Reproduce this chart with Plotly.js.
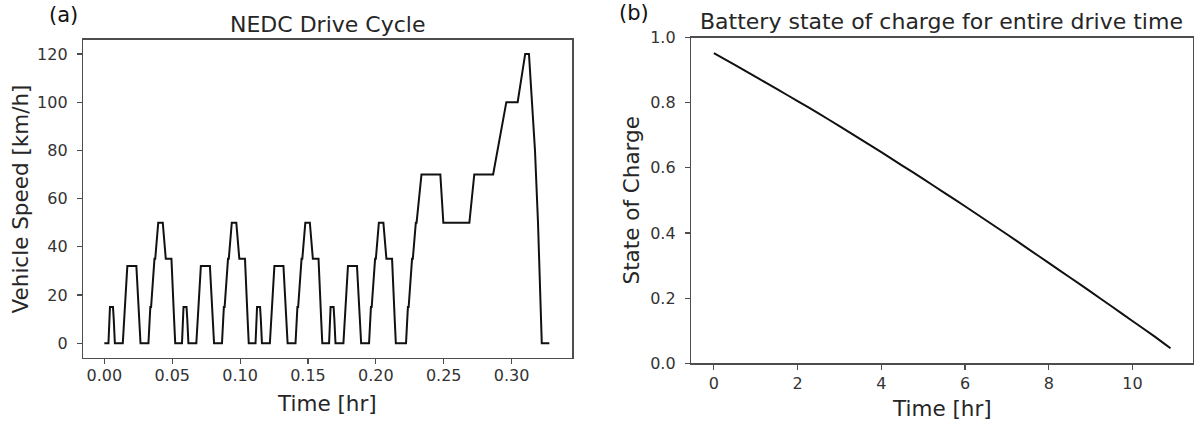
<!DOCTYPE html>
<html>
<head>
<meta charset="utf-8">
<script src="https://cdn.plot.ly/plotly-3.0.1.min.js"></script>
<style>html,body{margin:0;padding:0;background:#fff;}#chart{width:1194px;height:425px;}</style>
</head>
<body>
<div id="chart"></div>
<script>
// NEDC drive cycle breakpoints: time in seconds, speed in km/h
const nedcTimeSec = [
  0, 11, 15, 23, 25, 28, 49, 54, 56, 61, 85, 93, 96, 117, 122, 124, 133, 135, 143, 155, 163, 176, 178, 185, 188, 195,
  206, 210, 218, 220, 223, 244, 249, 251, 256, 280, 288, 291, 312, 317, 319, 328, 330, 338, 350, 358, 371, 373, 380, 383, 390,
  401, 405, 413, 415, 418, 439, 444, 446, 451, 475, 483, 486, 507, 512, 514, 523, 525, 533, 545, 553, 566, 568, 575, 578, 585,
  596, 600, 608, 610, 613, 634, 639, 641, 646, 670, 678, 681, 702, 707, 709, 718, 720, 728, 740, 748, 761, 763, 770, 773, 780,
  800, 805, 807, 816, 818, 826, 828, 841, 891, 899, 968, 981, 1031, 1066, 1096, 1116, 1126, 1142, 1150, 1160, 1180
];
const nedcSpeed = [
  0, 0, 15, 15, 10, 0, 0, 15, 15, 32, 32, 10, 0, 0, 15, 15, 35, 35, 50, 50, 35, 35, 35, 10, 0, 0,
  0, 15, 15, 10, 0, 0, 15, 15, 32, 32, 10, 0, 0, 15, 15, 35, 35, 50, 50, 35, 35, 35, 10, 0, 0,
  0, 15, 15, 10, 0, 0, 15, 15, 32, 32, 10, 0, 0, 15, 15, 35, 35, 50, 50, 35, 35, 35, 10, 0, 0,
  0, 15, 15, 10, 0, 0, 15, 15, 32, 32, 10, 0, 0, 15, 15, 35, 35, 50, 50, 35, 35, 35, 10, 0, 0,
  0, 15, 15, 35, 35, 50, 50, 70, 70, 50, 50, 70, 70, 100, 100, 120, 120, 80, 50, 0, 0
];

// Battery state of charge over the whole drive time (hours)
const socTimeHr = [0, 0.5, 1.0, 1.5, 2.0, 2.5, 3.0, 3.5, 4.0, 4.5, 5.0, 5.5, 6.0, 6.5, 7.0, 7.5, 8.0, 8.5, 9.0, 9.5, 10.0, 10.5, 10.91];
const socValues = [0.952, 0.916, 0.879, 0.842, 0.805, 0.767, 0.728, 0.688, 0.648, 0.607, 0.566, 0.524, 0.482, 0.439, 0.396, 0.352, 0.308, 0.264, 0.220, 0.175, 0.130, 0.085, 0.046];

// Tick labels
const speedTicks = [0, 20, 40, 60, 80, 100, 120];
const cycleTimeTicks = [0, 0.05, 0.10, 0.15, 0.20, 0.25, 0.30];
const socTicks = [0, 0.2, 0.4, 0.6, 0.8, 1.0];
const driveTimeTicks = [0, 2, 4, 6, 8, 10];

const W = 1194, H = 425;
const px = x => x / W;
const py = y => 1 - y / H;

const FONT = 'DejaVu Sans, Liberation Sans, sans-serif';
const TXT = '#262626';
const AX = '#4d4d4d';

const nedcTimeHr = nedcTimeSec.map(s => s / 3600);

const traces = [
  {x: nedcTimeHr, y: nedcSpeed, type: 'scatter', mode: 'lines', xaxis: 'x', yaxis: 'y',
   line: {color: '#111', width: 2}, hoverinfo: 'skip', showlegend: false},
  {x: socTimeHr, y: socValues, type: 'scatter', mode: 'lines', xaxis: 'x2', yaxis: 'y2',
   line: {color: '#111', width: 2, shape: 'spline', smoothing: 0.6}, hoverinfo: 'skip', showlegend: false}
];

function axisBase(extra) {
  return Object.assign({
    showgrid: false, zeroline: false, showline: true, mirror: true,
    linecolor: AX, linewidth: 1.2, ticks: 'outside', ticklen: 5, tickwidth: 1.1, tickcolor: AX,
    tickfont: {family: FONT, size: 16, color: '#333'}, tickmode: 'array', fixedrange: true
  }, extra);
}

const layout = {
  width: W, height: H,
  margin: {l: 0, r: 0, t: 0, b: 0},
  paper_bgcolor: '#fff', plot_bgcolor: '#fff',
  showlegend: false,
  xaxis: axisBase({domain: [px(83), px(572.3)], range: [-0.0157, 0.3447], anchor: 'y',
    tickvals: cycleTimeTicks, ticktext: cycleTimeTicks.map(v => v.toFixed(2)), ticklabelstandoff: -2}),
  yaxis: axisBase({domain: [py(357.7), py(39.5)], range: [-6, 126], anchor: 'x',
    tickvals: speedTicks, ticktext: speedTicks.map(String), ticklabelstandoff: 6}),
  xaxis2: axisBase({domain: [px(691), px(1192.7)], range: [-0.547, 11.44], anchor: 'y2',
    tickvals: driveTimeTicks, ticktext: driveTimeTicks.map(String), ticklabelstandoff: 0}),
  yaxis2: axisBase({domain: [py(363.3), py(37.5)], range: [0, 1], anchor: 'x2',
    tickvals: socTicks, ticktext: socTicks.map(v => v.toFixed(1)), ticklabelstandoff: 6}),
  annotations: [
    {text: 'NEDC Drive Cycle', x: px(327.5), y: py(24), xref: 'paper', yref: 'paper',
     xanchor: 'center', yanchor: 'middle', showarrow: false, font: {family: FONT, size: 22, color: TXT}},
    {text: 'Battery state of charge for entire drive time', x: px(941.8), y: py(21), xref: 'paper', yref: 'paper',
     xanchor: 'center', yanchor: 'middle', showarrow: false, font: {family: FONT, size: 22, color: TXT}},
    {text: 'Time [hr]', x: px(327.5), y: py(403), xref: 'paper', yref: 'paper',
     xanchor: 'center', yanchor: 'middle', showarrow: false, font: {family: FONT, size: 21.5, color: TXT}},
    {text: 'Time [hr]', x: px(942), y: py(408), xref: 'paper', yref: 'paper',
     xanchor: 'center', yanchor: 'middle', showarrow: false, font: {family: FONT, size: 21.5, color: TXT}},
    {text: 'Vehicle Speed [km/h]', x: px(19.5), y: py(199), xref: 'paper', yref: 'paper', textangle: -90,
     xanchor: 'center', yanchor: 'middle', showarrow: false, font: {family: FONT, size: 21.5, color: TXT}},
    {text: 'State of Charge', x: px(631), y: py(200.5), xref: 'paper', yref: 'paper', textangle: -90,
     xanchor: 'center', yanchor: 'middle', showarrow: false, font: {family: FONT, size: 21.5, color: TXT}},
    {text: '(a)', x: px(63), y: py(15), xref: 'paper', yref: 'paper',
     xanchor: 'center', yanchor: 'middle', showarrow: false, font: {family: FONT, size: 21, color: '#111'}},
    {text: '(b)', x: px(634), y: py(13.5), xref: 'paper', yref: 'paper',
     xanchor: 'center', yanchor: 'middle', showarrow: false, font: {family: FONT, size: 21, color: '#111'}}
  ]
};

Plotly.newPlot('chart', traces, layout, {staticPlot: true, displayModeBar: false});
</script>
</body>
</html>
